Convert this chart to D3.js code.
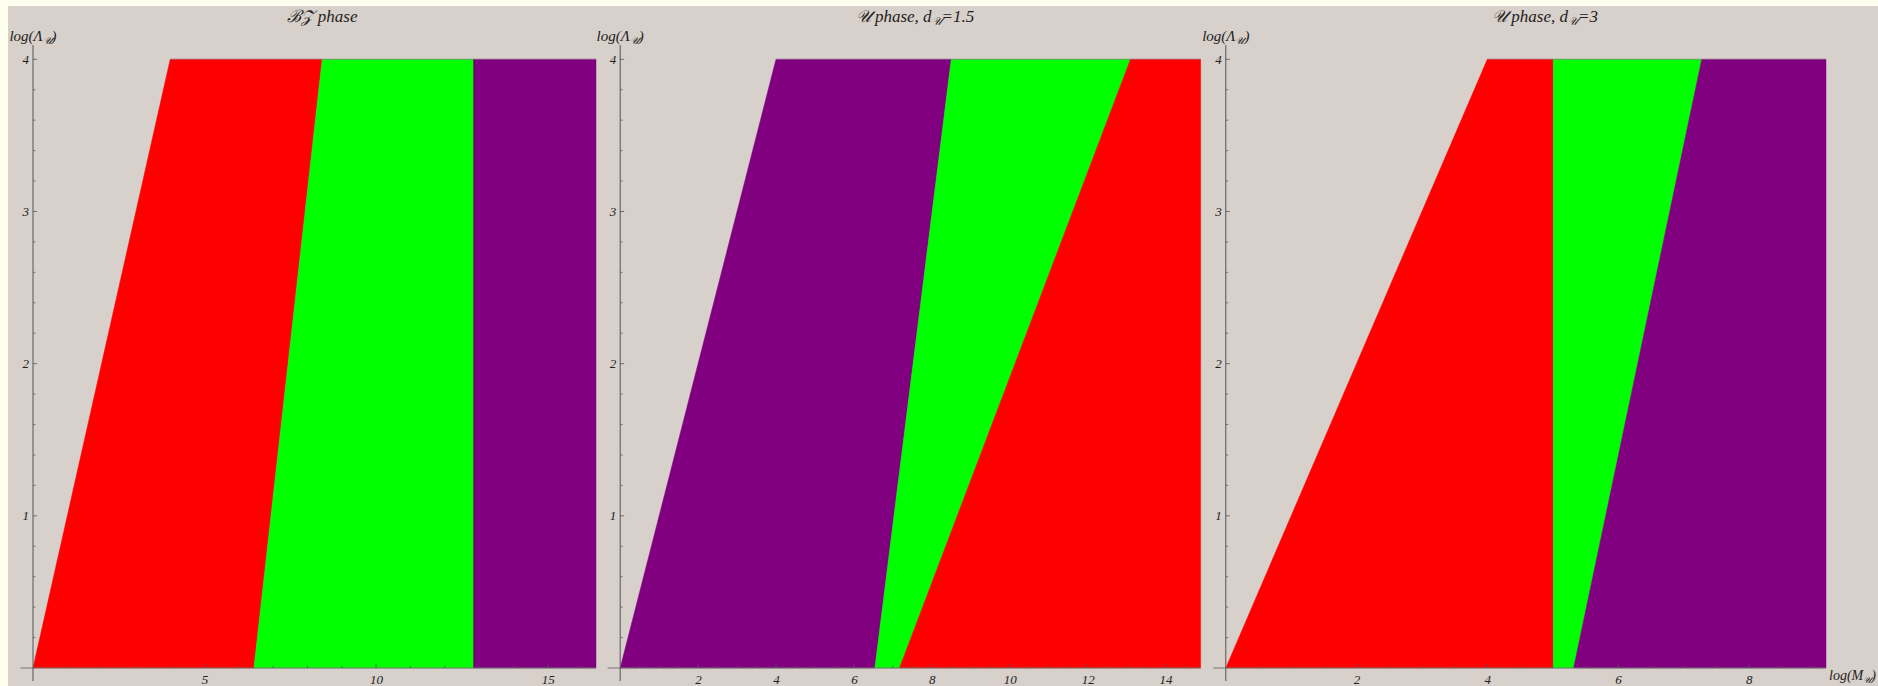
<!DOCTYPE html>
<html>
<head>
<meta charset="utf-8">
<script src="https://cdn.jsdelivr.net/npm/d3@7/dist/d3.min.js"></script>
<style>
  html, body { margin: 0; padding: 0; background: #FFFFF0; }
  svg { display: block; }
  text { font-family: "Liberation Serif", "DejaVu Serif", serif; font-style: italic; fill: #222; }
</style>
</head>
<body>
<svg id="chart" width="1878" height="686"></svg>
<script>
// ---- data ----
const panelTitles = ["BZ", "U15", "U3"];
const xMaxValues = [16.41, 14.9, 9.18];
const yMaxValue = 4;
// region boundaries (log M_U) at log Λ_U = 0 and at log Λ_U = 4
const bottomBounds = [
  [0, 6.44, 12.85, 16.41],
  [0, 6.54, 7.17, 14.9],
  [0, 5.01, 5.32, 9.18]
];
const topBounds = [
  [4.0, 8.43, 12.85, 16.41],
  [4.0, 8.5, 13.1, 14.9],
  [4.0, 5.01, 7.28, 9.18]
];
const regionPhases = [
  ["red", "green", "purple"],
  ["purple", "green", "red"],
  ["red", "green", "purple"]
];
const xMajorTicks = [[5, 10, 15], [2, 4, 6, 8, 10, 12, 14], [2, 4, 6, 8]];
const xMinorStep = [1, 0.5, 0.5];
const yMajorTicks = [1, 2, 3, 4];
const yMinorStep = 0.2;

// ---- layout ----
const W = 1878, H = 686;
const plotLeft = [33, 620.2, 1225.8];
const plotRight = [596, 1200.6, 1826];
const plotTop = 59.3, plotBottom = 668;
const titleX = [322, 915, 1545];
const colorMap = { red: "#FF0000", green: "#00FF00", purple: "#800080" };

const svg = d3.select("#chart");
svg.append("rect").attr("x", 8).attr("y", 6).attr("width", W - 8).attr("height", H - 6)
  .attr("fill", "#D8D0CA");

const SCRIPT_U = "\u{1D4B0}";

panelTitles.forEach((pt, p) => {
  const x = d3.scaleLinear().domain([0, xMaxValues[p]]).range([plotLeft[p], plotRight[p]]);
  const y = d3.scaleLinear().domain([0, yMaxValue]).range([plotBottom, plotTop]);
  const g = svg.append("g");

  // regions
  const polys = regionPhases[p].map((ph, i) => ({
    phase: ph,
    pts: [[bottomBounds[p][i], 0], [topBounds[p][i], yMaxValue],
          [topBounds[p][i + 1], yMaxValue], [bottomBounds[p][i + 1], 0]]
  }));
  g.selectAll("path.region").data(polys).join("path")
    .attr("class", "region")
    .attr("d", d => d3.line().x(v => x(v[0])).y(v => y(v[1]))(d.pts) + "Z")
    .attr("fill", d => colorMap[d.phase])
    .attr("stroke", d => colorMap[d.phase]).attr("stroke-width", 0.5);

  // top edge slight line
  g.append("line").attr("x1", x(topBounds[p][0])).attr("x2", x(xMaxValues[p]))
    .attr("y1", y(yMaxValue)).attr("y2", y(yMaxValue))
    .attr("stroke", "#8c6f8c").attr("stroke-width", 1).attr("opacity", 0.6);

  // vertical boundary in panel 1 has a dark seam
  if (p === 0) {
    g.append("line").attr("x1", x(bottomBounds[0][2])).attr("x2", x(topBounds[0][2]))
      .attr("y1", y(0)).attr("y2", y(yMaxValue)).attr("stroke", "#3a003a").attr("stroke-width", 1).attr("opacity", 0.6);
  }

  // x axis
  const xMinor = d3.range(xMinorStep[p], xMaxValues[p], xMinorStep[p])
    .filter(v => !xMajorTicks[p].some(m => Math.abs(m - v) < 1e-6));
  const xAxisMajor = d3.axisBottom(x).tickValues(xMajorTicks[p]).tickSize(0).tickPadding(7).tickFormat(d3.format("d"));
  const ax = g.append("g").attr("transform", `translate(0,${plotBottom})`).call(xAxisMajor);
  ax.select(".domain").remove();
  ax.selectAll("text").attr("font-size", 13).attr("font-family", "Liberation Serif").attr("font-style", "italic").attr("fill", "#222");
  g.append("line").attr("x1", plotLeft[p] - 12.5).attr("x2", plotRight[p])
    .attr("y1", plotBottom).attr("y2", plotBottom).attr("stroke", "#777").attr("stroke-width", 1.2);
  g.selectAll("line.xmaj").data(xMajorTicks[p]).join("line").attr("class", "xmaj")
    .attr("x1", d => x(d)).attr("x2", d => x(d)).attr("y1", plotBottom).attr("y2", plotBottom - 4)
    .attr("stroke", "#555").attr("stroke-width", 0.8);
  g.selectAll("line.xmin").data(xMinor).join("line").attr("class", "xmin")
    .attr("x1", d => x(d)).attr("x2", d => x(d)).attr("y1", plotBottom).attr("y2", plotBottom - 2.5)
    .attr("stroke", "#555").attr("stroke-width", 0.7);

  // y axis
  g.append("line").attr("x1", plotLeft[p]).attr("x2", plotLeft[p]).attr("y1", 45).attr("y2", 681)
    .attr("stroke", "#555").attr("stroke-width", 1);
  const yAxisMajor = d3.axisLeft(y).tickValues(yMajorTicks).tickSize(0).tickPadding(4).tickFormat(d3.format("d"));
  const ay = g.append("g").attr("transform", `translate(${plotLeft[p]},0)`).call(yAxisMajor);
  ay.select(".domain").remove();
  ay.selectAll("text").attr("font-size", 13).attr("font-family", "Liberation Serif").attr("font-style", "italic").attr("fill", "#222");
  const yMinor = d3.range(yMinorStep, yMaxValue + 1e-9, yMinorStep).map(v => +v.toFixed(2))
    .filter(v => !yMajorTicks.includes(v));
  g.selectAll("line.ymaj").data(yMajorTicks).join("line").attr("class", "ymaj")
    .attr("x1", plotLeft[p]).attr("x2", plotLeft[p] + 4).attr("y1", d => y(d)).attr("y2", d => y(d))
    .attr("stroke", "#555").attr("stroke-width", 0.8);
  g.selectAll("line.ymin").data(yMinor).join("line").attr("class", "ymin")
    .attr("x1", plotLeft[p]).attr("x2", plotLeft[p] + 2.5).attr("y1", d => y(d)).attr("y2", d => y(d))
    .attr("stroke", "#555").attr("stroke-width", 0.7);

  // y label log(Λ_U)
  const yl = g.append("text").attr("x", plotLeft[p]).attr("y", 41).attr("text-anchor", "middle")
    .attr("font-size", 15);
  yl.append("tspan").text("log(Λ");
  yl.append("tspan").attr("font-size", 10).attr("dy", 3).text(SCRIPT_U);
  yl.append("tspan").attr("dy", -3).text(")");

  // title
  const t = g.append("text").attr("x", titleX[p]).attr("y", 22).attr("text-anchor", "middle").attr("font-size", 17);
  if (pt === "BZ") {
    t.append("tspan").text("\u212C\u{1D4B5} ");
    t.append("tspan").text("phase");
  } else {
    t.append("tspan").text(SCRIPT_U + " phase, d");
    t.append("tspan").attr("font-size", 11).attr("dy", 3).text(SCRIPT_U);
    t.append("tspan").attr("dy", -3).text(pt === "U15" ? "=1.5" : "=3");
  }
});

// x label on the right
const xl = svg.append("text").attr("x", 1829).attr("y", 680).attr("font-size", 14);
xl.append("tspan").text("log(M");
xl.append("tspan").attr("font-size", 9).attr("dy", 3).text(SCRIPT_U);
xl.append("tspan").attr("dy", -3).text(")");
</script>
</body>
</html>
